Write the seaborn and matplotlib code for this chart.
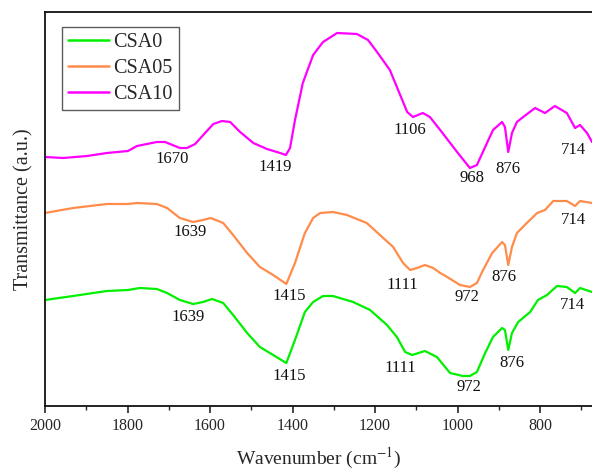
import matplotlib
matplotlib.use("Agg")
import matplotlib.pyplot as plt
import seaborn as sns
import pandas as pd
from matplotlib.ticker import MultipleLocator

# ---- data ----
series_names = ["CSA0", "CSA05", "CSA10"]

wn_csa10 = [2000, 1956, 1898, 1850, 1799, 1777, 1729, 1709, 1673, 1656, 1636, 1612, 1592, 1571,
            1551, 1527, 1495, 1462, 1430, 1416, 1406, 1394, 1375, 1350, 1326, 1292, 1244, 1217,
            1195, 1164, 1144, 1122, 1108, 1084, 1067, 1042, 1001, 970, 953, 933, 914, 892, 885,
            877, 868, 856, 844, 812, 788, 764, 735, 715, 703, 686, 674]
t_csa10 = [249, 248, 250, 253, 255, 260, 264, 264, 258, 258, 262, 273, 282, 285,
           284, 274, 263, 257, 253, 251, 258, 286, 323, 351, 364, 373, 372, 366,
           354, 336, 316, 294, 289, 293, 289, 276, 254, 238, 241, 259, 276, 284, 279,
           254, 273, 284, 288, 298, 293, 300, 293, 278, 281, 273, 264]

wn_csa05 = [2000, 1932, 1850, 1799, 1777, 1729, 1704, 1673, 1641, 1617, 1598, 1568, 1544, 1510,
            1479, 1447, 1415, 1394, 1370, 1350, 1333, 1302, 1268, 1220, 1188, 1156, 1132, 1115,
            1098, 1079, 1059, 1042, 1025, 994, 970, 953, 938, 916, 892, 885, 877, 868, 856,
            832, 807, 788, 768, 735, 715, 703, 674]
t_csa05 = [193, 198, 202, 202, 203, 202, 198, 188, 184, 186, 188, 183, 171, 153,
           139, 131, 122, 143, 173, 188, 193, 194, 191, 183, 171, 159, 143, 136,
           138, 141, 138, 133, 129, 121, 119, 123, 136, 153, 164, 161, 141, 159, 173,
           183, 193, 196, 205, 205, 200, 205, 203]

wn_csa0 = [2000, 1932, 1850, 1799, 1770, 1729, 1704, 1673, 1641, 1617, 1595, 1568, 1544, 1510,
           1479, 1447, 1415, 1394, 1370, 1350, 1326, 1302, 1253, 1212, 1171, 1147, 1127, 1110,
           1079, 1050, 1018, 987, 970, 953, 933, 914, 892, 885, 877, 868, 853, 824, 805, 783,
           759, 735, 715, 703, 674]
t_csa0 = [106, 110, 115, 116, 118, 117, 113, 106, 102, 104, 107, 103, 91, 73,
          59, 51, 43, 66, 94, 104, 110, 110, 104, 96, 81, 69, 54, 51,
          55, 49, 33, 30, 30, 34, 53, 69, 78, 76, 56, 73, 84, 94, 106, 111,
          120, 119, 113, 118, 114]

# peak labels: text, x (cm-1), y (a.u.)
peak_text = ["1670", "1419", "1106", "968", "876", "714",
             "1639", "1415", "1111", "972", "876", "714",
             "1639", "1415", "1111", "972", "876", "714"]
peak_x = [1692, 1442, 1115, 965, 878, 718,
          1648, 1408, 1135, 977, 887, 718,
          1653, 1408, 1139, 972, 868, 722]
peak_y = [247, 239, 276, 228, 237, 256,
          174, 110, 121, 109, 129, 186,
          89, 30, 38, 19, 43, 101]

colors = ["#00f000", "#ff8c4a", "#ff00ff"]

frames = []
for name, wn, t in zip(series_names, [wn_csa0, wn_csa05, wn_csa10], [t_csa0, t_csa05, t_csa10]):
    frames.append(pd.DataFrame({"Wavenumber": wn, "T": t, "Sample": name}))
df = pd.concat(frames, ignore_index=True)

sns.set_style("ticks")
plt.rcParams["font.family"] = ["Liberation Serif", "DejaVu Serif"]
plt.rcParams["mathtext.fontset"] = "stix"

fig = plt.figure(figsize=(5.92, 4.73), dpi=100)
ax = fig.add_axes([45 / 592, 1 - 406 / 473, 1 - 45 / 592, (406 - 12) / 473])

sns.lineplot(data=df, x="Wavenumber", y="T", hue="Sample", hue_order=series_names,
             palette=colors, estimator=None, sort=False, linewidth=1.6, ax=ax)

for s, x, y in zip(peak_text, peak_x, peak_y):
    ax.text(x, y, s, ha="center", va="center", fontsize=12, color="#111111")

ax.set_xlim(2000, 674)
ax.set_ylim(0, 394)
ax.xaxis.set_major_locator(MultipleLocator(200))
ax.xaxis.set_minor_locator(MultipleLocator(100))
ax.set_yticks([])
ax.tick_params(axis="x", which="major", direction="out", length=5, width=1.2, labelsize=11.5, pad=4)
ax.tick_params(axis="x", which="minor", direction="out", length=3, width=1.0)
for sp in ["left", "bottom", "top"]:
    ax.spines[sp].set_linewidth(1.3)
    ax.spines[sp].set_color("#111111")
ax.spines["right"].set_visible(False)

ax.set_xlabel("Wavenumber (cm$^{-1}$)", fontsize=14, labelpad=8)
ax.set_ylabel("Transmittance (a.u.)", fontsize=14.5, labelpad=8)

leg = ax.legend(loc="upper left", bbox_to_anchor=((62 - 45) / 547, 1 - (27 - 12) / 394),
                bbox_transform=ax.transAxes, fontsize=14.5, frameon=True, fancybox=False,
                handlelength=2.05, handletextpad=0.2, borderpad=0.3, labelspacing=0.33,
                borderaxespad=0.0)
leg.get_frame().set_edgecolor("#333333")
leg.get_frame().set_linewidth(1.0)
leg.set_title(None)
for line in leg.get_lines():
    line.set_linewidth(1.8)

fig.savefig("out.png", dpi=100)
